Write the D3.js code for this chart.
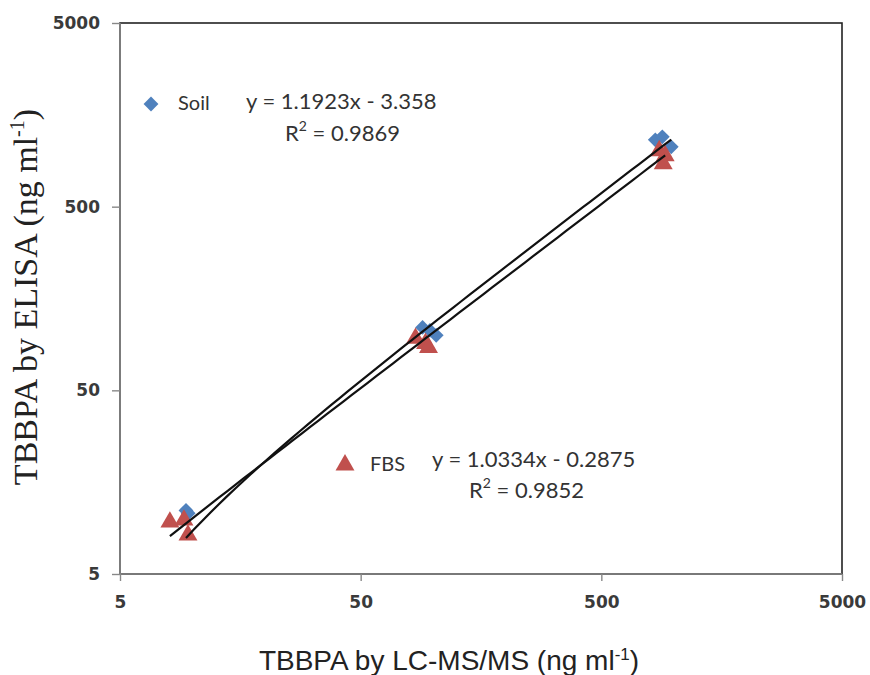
<!DOCTYPE html>
<html>
<head>
<meta charset="utf-8">
<script src="https://cdn.jsdelivr.net/npm/d3@7"></script>
<style>
  body { margin: 0; background: #fff; }
  svg { display: block; }
</style>
</head>
<body>
<svg width="870" height="675"></svg>
<script>
// data (ng/ml)
const soilX = [9.4, 9.6, 90.4, 97, 103, 838, 896, 976];
const soilY = [11.1, 10.7, 110, 106, 99.6, 1156, 1200, 1059];
const fbsX = [8.06, 9.22, 9.58, 84.5, 93, 95.7, 870, 921, 904];
const fbsY = [9.59, 9.83, 8.14, 95.9, 90, 85.6, 1008, 947, 857];
// trendline coefficients shown on the chart
const soilFit = { slope: 1.1923, icept: -3.358 };
const fbsFit = { slope: 1.0334, icept: -0.2875 };
const tickVals = [5, 50, 500, 5000];

(function (d3) {
    const svg = d3.select('svg');

    const left = 120, right = 842, top = 23, bottom = 574;

    const x = d3.scaleLog().domain([5, 5000]).range([left, right]);
    const y = d3.scaleLog().domain([5, 5000]).range([bottom, top]);

    // plot area frame
    svg.append('rect')
        .attr('x', left).attr('y', top)
        .attr('width', right - left).attr('height', bottom - top)
        .attr('fill', 'none')
        .attr('stroke', '#222')
        .attr('stroke-width', 1.6);

    const tickFont = g => g.selectAll('text')
        .attr('font-family', 'DejaVu Sans')
        .attr('font-weight', 'bold')
        .attr('font-size', 17)
        .attr('fill', '#3a3a3a');

    const xAxis = svg.append('g')
        .attr('transform', `translate(0,${bottom})`)
        .call(d3.axisBottom(x).tickValues(tickVals).tickFormat(d3.format('d')).tickSize(7).tickPadding(15))
        .call(tickFont);
    const yAxis = svg.append('g')
        .attr('transform', `translate(${left},0)`)
        .call(d3.axisLeft(y).tickValues(tickVals).tickFormat(d3.format('d')).tickSize(8).tickPadding(12))
        .call(tickFont);
    [xAxis, yAxis].forEach(g => {
        g.select('.domain').attr('stroke', '#888').attr('stroke-width', 1.6);
        g.selectAll('.tick line').attr('stroke', '#888').attr('stroke-width', 1.4);
    });
    yAxis.select('.domain').attr('d', `M0,${top}V${bottom}`);
    xAxis.select('.domain').attr('d', `M${left},0H${right}`);

    // trendlines (linear fit, drawn on log axes)
    const fitLine = (xs, fit) => {
        const lo = d3.min(xs), hi = d3.max(xs);
        const steps = d3.range(0, 61).map(i => lo * Math.pow(hi / lo, i / 60));
        return d3.line()
            .x(d => x(d))
            .y(d => y(fit.slope * d + fit.icept))(steps);
    };

    const diamond = d3.symbol().type(d3.symbolDiamond2).size(140);
    const triangle = d3.symbol().type(d3.symbolTriangle).size(155);

    svg.append('g').selectAll('path')
        .data(d3.zip(soilX, soilY))
        .join('path')
        .attr('d', diamond)
        .attr('transform', d => `translate(${x(d[0])},${y(d[1])})`)
        .attr('fill', '#4F81BD');

    svg.append('g').selectAll('path')
        .data(d3.zip(fbsX, fbsY))
        .join('path')
        .attr('d', triangle)
        .attr('transform', d => `translate(${x(d[0])},${y(d[1])})`)
        .attr('fill', '#C0504D');

    // trendlines on top of markers
    svg.append('path')
        .attr('d', fitLine(soilX, soilFit))
        .attr('fill', 'none').attr('stroke', '#111').attr('stroke-width', 2.2);
    svg.append('path')
        .attr('d', fitLine(fbsX, fbsFit))
        .attr('fill', 'none').attr('stroke', '#111').attr('stroke-width', 2.2);

    // legend-like labels
    const lab = (tx, ty, str) => svg.append('text')
        .attr('x', tx).attr('y', ty)
        .attr('font-family', 'Lato')
        .attr('font-size', 22)
        .attr('fill', '#333')
        .attr('dominant-baseline', 'middle')
        .text(str);
    const r2 = (tx, ty, val) => {
        const t = lab(tx, ty, 'R');
        t.append('tspan').attr('font-size', 14).attr('dy', -8).text('2');
        t.append('tspan').attr('dy', 8).text(' = ' + val);
    };

    svg.append('path').attr('d', diamond)
        .attr('transform', 'translate(151,104)').attr('fill', '#4F81BD');
    lab(178, 105, 'Soil').attr('font-size', 20);
    lab(246, 103, `y = ${soilFit.slope}x - ${Math.abs(soilFit.icept)}`);
    r2(285, 135, '0.9869');

    svg.append('path').attr('d', triangle)
        .attr('transform', 'translate(345,465)').attr('fill', '#C0504D');
    lab(370, 466, 'FBS').attr('font-size', 20);
    lab(432, 461, `y = ${fbsFit.slope}x - ${Math.abs(fbsFit.icept)}`);
    r2(469, 492, '0.9852');

    // axis titles
    const xt = svg.append('text')
        .attr('x', 449).attr('y', 670)
        .attr('text-anchor', 'middle')
        .attr('font-family', 'Liberation Sans')
        .attr('font-size', 28)
        .attr('fill', '#222')
        .text('TBBPA by LC-MS/MS (ng ml');
    xt.append('tspan').attr('font-size', 17).attr('dy', -10).text('-1');
    xt.append('tspan').attr('dy', 10).text(')');

    const yt = svg.append('text')
        .attr('transform', 'translate(37,297) rotate(-90)')
        .attr('text-anchor', 'middle')
        .attr('font-family', 'Liberation Serif')
        .attr('font-size', 34)
        .attr('fill', '#222')
        .text('TBBPA by ELISA (ng ml');
    yt.append('tspan').attr('font-size', 20).attr('dy', -13).text('-1');
    yt.append('tspan').attr('dy', 13).text(')');
}(d3));
</script>
</body>
</html>
